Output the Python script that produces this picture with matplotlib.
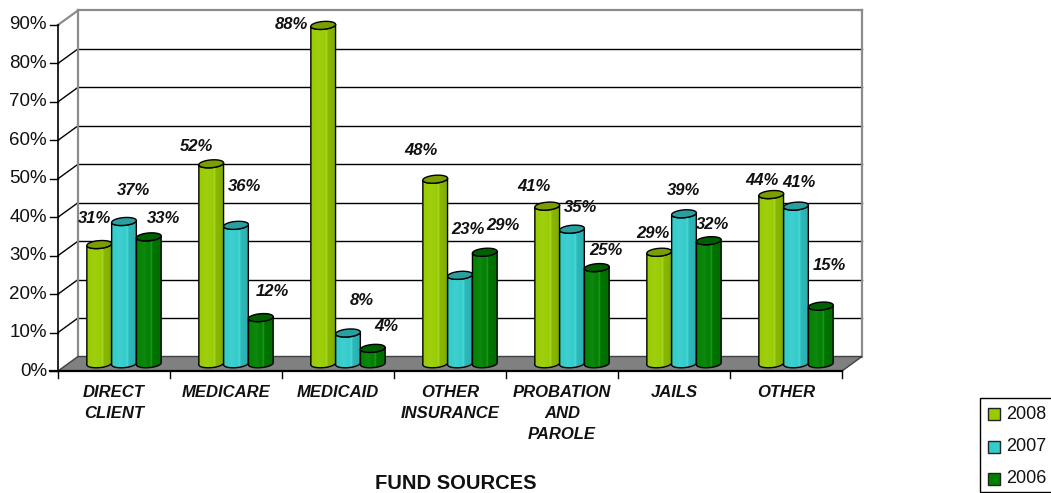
import numpy as np
import matplotlib
matplotlib.use("Agg")
import matplotlib.pyplot as plt
import matplotlib.transforms as mtransforms
from matplotlib.patches import Polygon, Rectangle
from matplotlib.colors import to_rgb

# ---------------------------------------------------------------- data
categories = ["DIRECT\nCLIENT", "MEDICARE", "MEDICAID", "OTHER\nINSURANCE",
              "PROBATION\nAND\nPAROLE", "JAILS", "OTHER"]
years = ["2008", "2007", "2006"]
share_2008 = [31, 52, 88, 48, 41, 29, 44]
share_2007 = [37, 36, 8, 23, 35, 39, 41]
share_2006 = [33, 12, 4, 29, 25, 32, 15]
y_ticks = [0, 10, 20, 30, 40, 50, 60, 70, 80, 90]
y_tick_labels = [f"{t}%" for t in y_ticks]
x_title = "FUND SOURCES"

# ---------------------------------------------------------------- style
body_colors = ["#99CC00", "#33CCCC", "#008000"]
cap_colors = ["#7A9E00", "#2A9FA0", "#005F00"]
floor_color = "#808080"
wall_edge = "#8C8C8C"

# value-label placement (pixels, relative to the top of each bar)
label_dx = [[-4.5, -14.3, -31.3, -14.3, -13.0, -6.3, -9.3],
            [9.3, 9.0, 13.3, 8.3, 8.7, -0.7, 2.8],
            [14.3, 12.0, 13.7, 18.0, 9.3, 4.0, 9.0]]
label_dy = [[25.8, 17.5, 0.9, 28.2, 19.4, 19.2, 14.3],
            [30.5, 39.0, 32.2, 45.6, 21.4, 23.0, 24.1],
            [18.1, 26.4, 21.7, 26.7, 16.8, 16.7, 40.6]]

plt.rcParams["font.family"] = ["Liberation Sans", "DejaVu Sans"]

# ---------------------------------------------------------------- geometry
W, H = 1051, 493
PX_X = 112.0          # pixels per category
PX_Y = 3.845          # pixels per percentage point
X0_PX = 124.0         # pixel column of first category centre (mid depth)
Y0_PX = 363.75        # pixel row of 0 % (mid depth)
DEPTH_X, DEPTH_Y = 10.0, 7.25   # half depth of the 3-D box in pixels
HALF_W = 12.4         # bar radius in pixels
CAP_B = 3.9           # cap ellipse half height in pixels
TILT = np.deg2rad(5)

ddx = DEPTH_X / PX_X
ddy = DEPTH_Y / PX_Y


def front(x, v):
    return x - ddx, v - ddy


def back(x, v):
    return x + ddx, v + ddy


fig = plt.figure(figsize=(W / 100, H / 100), dpi=100)
ax = fig.add_axes([0, 0, 1, 1])
ax.set_autoscale_on(False)
ax.set_xlim(-X0_PX / PX_X, (W - X0_PX) / PX_X)
ax.set_ylim(-(H - Y0_PX) / PX_Y, Y0_PX / PX_Y)
ax.axis("off")

n = len(categories)
x_lo, x_hi = -0.5, n - 0.5
v_top = y_ticks[-1]

# back wall
wall = [back(x_lo, 0), back(x_hi, 0), back(x_hi, v_top), back(x_lo, v_top)]
ax.add_patch(Polygon(wall, closed=True, facecolor="white", edgecolor="none", zorder=0))
for t in y_ticks[1:-1]:
    xa, ya = back(x_lo, t)
    xb, yb = back(x_hi, t)
    ax.plot([xa, xb], [ya, yb], color="black", lw=1.0, zorder=1)
    fa, fb = front(x_lo, t)
    ax.plot([fa, xa], [fb, ya], color="black", lw=1.0, zorder=1)
# wall outline (top, right, inner left edge, top diagonal)
for p, q in [(back(x_lo, v_top), back(x_hi, v_top)),
             (back(x_hi, v_top), back(x_hi, 0)),
             (back(x_lo, 0), back(x_lo, v_top)),
             (front(x_lo, v_top), back(x_lo, v_top))]:
    ax.plot([p[0], q[0]], [p[1], q[1]], color=wall_edge, lw=1.6, zorder=1)

# floor
floor = [front(x_lo, 0), front(x_hi, 0), back(x_hi, 0), back(x_lo, 0)]
ax.add_patch(Polygon(floor, closed=True, facecolor=floor_color,
                     edgecolor="#404040", lw=1.0, zorder=2))

# front axes
fx, fy0 = front(x_lo, 0)
_, fy1 = front(x_lo, v_top)
ax.plot([fx, fx], [fy0, fy1], color="black", lw=1.2, zorder=3)
xr, _ = front(x_hi, 0)
ax.plot([fx - 8 / PX_X, xr], [fy0, fy0], color="black", lw=1.6, zorder=3)
for t, lab in zip(y_ticks, y_tick_labels):
    tx, ty = front(x_lo, t)
    ax.plot([tx - 8 / PX_X, tx], [ty, ty], color="black", lw=1.0, zorder=3)
    ax.annotate(lab, (tx, ty), xytext=(-11, 0), textcoords="offset pixels",
                ha="right", va="center", fontsize=13.5, color="#111111")
for k in range(n + 1):
    tx, ty = front(k - 0.5, 0)
    ax.plot([tx, tx], [ty, ty - 7 / PX_Y], color="black", lw=1.0, zorder=3)
for k, name in enumerate(categories):
    tx, ty = front(k, 0)
    ax.annotate(name, (tx, ty), xytext=(0, -14), textcoords="offset pixels",
                ha="center", va="top", fontsize=12, fontweight="bold",
                fontstyle="italic", linespacing=1.52, color="#111111")

# cylinders
def ellipse_pts(cx, cy, phis):
    ex = HALF_W * np.cos(phis) * np.cos(TILT) - CAP_B * np.sin(phis) * np.sin(TILT)
    ey = HALF_W * np.cos(phis) * np.sin(TILT) + CAP_B * np.sin(phis) * np.cos(TILT)
    return np.column_stack([cx + ex / PX_X, cy + ey / PX_Y])


def shade(rgb, f):
    rgb = np.asarray(rgb)
    if f >= 1:
        return rgb + (1 - rgb) * (f - 1)
    return rgb * f


shade_t = [0.0, 0.08, 0.35, 0.55, 0.60, 0.65, 0.90, 1.0]
shade_f = [0.88, 1.0, 1.06, 1.0, 1.18, 0.90, 0.86, 0.78]
ts = np.linspace(0, 1, 80)
fs = np.interp(ts, shade_t, shade_f)

front_arc = np.linspace(np.pi, 2 * np.pi, 40)
full_arc = np.linspace(0, 2 * np.pi, 90)
bar_step = 2 * HALF_W / PX_X
series = [share_2008, share_2007, share_2006]

z = 5
for k in range(n):
    for j, values in enumerate(series):
        v = values[k]
        cx = k + (j - 1) * bar_step
        bottom = ellipse_pts(cx, 0, front_arc)
        top = ellipse_pts(cx, v, front_arc[::-1])
        body = Polygon(np.vstack([bottom, top]), closed=True, facecolor="none",
                       edgecolor="black", lw=1.0, zorder=z + 1)
        ax.add_patch(body)
        base = to_rgb(body_colors[j])
        grad = np.array([shade(base, f) for f in fs])[None, :, :]
        ext = [cx - (HALF_W + 2) / PX_X, cx + (HALF_W + 2) / PX_X,
               -(CAP_B + 3) / PX_Y, v + (CAP_B + 3) / PX_Y]
        im = ax.imshow(grad, extent=ext, aspect="auto", origin="lower",
                       interpolation="bilinear", zorder=z)
        im.set_clip_path(body)
        ax.add_patch(Polygon(ellipse_pts(cx, v, full_arc), closed=True,
                             facecolor=cap_colors[j], edgecolor="black",
                             lw=1.0, zorder=z + 2))
        z += 3

for j, values in enumerate(series):
    for k, v in enumerate(values):
        cx = k + (j - 1) * bar_step
        ax.annotate(f"{v}%", (cx, v), xytext=(label_dx[j][k], label_dy[j][k]),
                    textcoords="offset pixels", ha="center", va="center",
                    fontsize=12, fontweight="bold", fontstyle="italic",
                    color="#111111", zorder=200)

# title and legend placed in figure pixels (origin top-left)
px = mtransforms.Affine2D().scale(1, -1).translate(0, H)
fig.text(456, 474, x_title, transform=px, ha="center", va="top",
         fontsize=14.5, fontweight="bold", color="#111111")
fig.add_artist(Rectangle((980, 397.5), 80, 94, transform=px, facecolor="white",
                         edgecolor="black", lw=1.0))
for j, year in enumerate(years):
    yc = 414.3 + j * 32.2
    fig.add_artist(Rectangle((987.5, yc - 6), 12, 12, transform=px,
                             facecolor=body_colors[j], edgecolor="#222222", lw=1.0))
    fig.text(1006, yc, year, transform=px, ha="left", va="center",
             fontsize=13, color="#111111")

fig.savefig("out.png", dpi=100)
